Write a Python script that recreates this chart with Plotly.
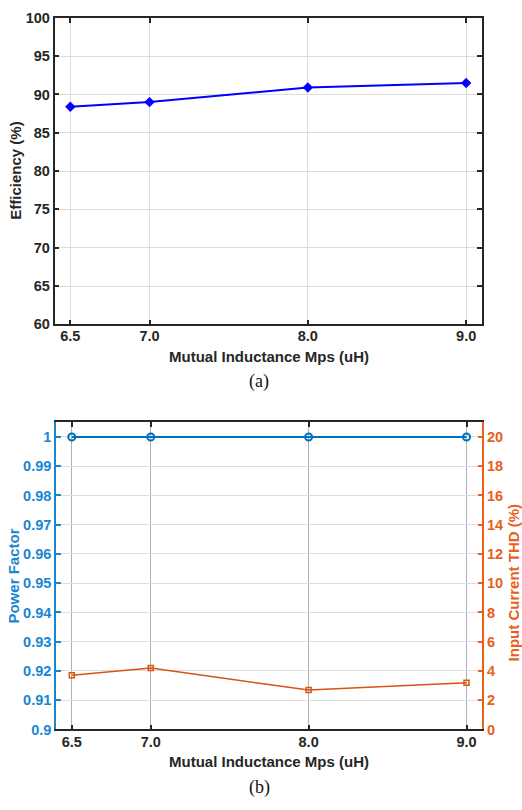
import plotly.graph_objects as go

# ---- data ----
mps = [6.5, 7.0, 8.0, 9.0]
efficiency = [88.4, 89.0, 90.9, 91.5]
power_factor = [1.0, 1.0, 1.0, 1.0]
thd = [3.7, 4.2, 2.7, 3.2]
x_ticks = [6.5, 7.0, 8.0, 9.0]
x_ticktext = ["6.5", "7.0", "8.0", "9.0"]
eff_ticks = [60, 65, 70, 75, 80, 85, 90, 95, 100]
pf_ticks = [0.9, 0.91, 0.92, 0.93, 0.94, 0.95, 0.96, 0.97, 0.98, 0.99, 1]
pf_ticktext = ["0.9", "0.91", "0.92", "0.93", "0.94", "0.95", "0.96", "0.97", "0.98", "0.99", "1"]
thd_ticks = [0, 2, 4, 6, 8, 10, 12, 14, 16, 18, 20]

W, H = 522, 810
FONT = "Liberation Sans, Arial, sans-serif"
DARK = "#262626"
BLUE_LINE = "#0072BD"
BLUE_TXT = "#1a86d0"
ORANGE_LINE = "#D95319"
ORANGE_TXT = "#E8601C"

def px_x(p):
    return p / W

def px_y(p):
    return (H - p) / H

fig = go.Figure()

fig.add_trace(go.Scatter(
    x=mps, y=efficiency, mode="lines+markers",
    line=dict(color="#0000FF", width=2),
    marker=dict(symbol="diamond", size=8, color="#0000FF"),
    xaxis="x", yaxis="y", showlegend=False,
))
fig.add_trace(go.Scatter(
    x=mps, y=power_factor, mode="lines+markers",
    line=dict(color=BLUE_LINE, width=2),
    marker=dict(symbol="circle-open", size=7, color=BLUE_LINE, line=dict(width=2)),
    xaxis="x2", yaxis="y2", showlegend=False,
))
fig.add_trace(go.Scatter(
    x=mps, y=thd, mode="lines+markers",
    line=dict(color=ORANGE_LINE, width=1.5),
    marker=dict(symbol="square-open", size=5, color=ORANGE_LINE, line=dict(width=1.5)),
    xaxis="x2", yaxis="y3", showlegend=False,
))

TS = 14.5
tickfont_dark = dict(family=FONT, size=TS, color=DARK, weight="bold")

xcommon = dict(
    range=[6.4, 9.1], tickvals=x_ticks, ticktext=x_ticktext,
    ticks="inside", ticklen=5, tickwidth=1.5,
    showline=True, linewidth=1.5, linecolor=DARK, tickcolor=DARK,
    mirror="ticks", showgrid=True, zeroline=False,
    tickfont=tickfont_dark, ticklabelstandoff=-2,
)

fig.update_layout(
    width=W, height=H,
    margin=dict(l=0, r=0, t=0, b=0),
    paper_bgcolor="white", plot_bgcolor="white",
    xaxis=dict(domain=[px_x(54.5), px_x(482)], anchor="y",
               gridcolor="#dcdcdc", gridwidth=1, **xcommon),
    yaxis=dict(domain=[px_y(322.7), px_y(10)], anchor="x",
               range=[60, 100], tickvals=eff_ticks,
               ticks="inside", ticklen=5, tickwidth=1.5,
               showline=True, linewidth=1.5, linecolor=DARK, tickcolor=DARK,
               mirror="ticks", showgrid=True, gridcolor="#dcdcdc", zeroline=False,
               tickfont=tickfont_dark),
    xaxis2=dict(domain=[px_x(56), px_x(482.3)], anchor="y2",
                gridcolor="#b0b0b0", gridwidth=1, **xcommon),
    yaxis2=dict(domain=[px_y(736), px_y(422.7)], anchor="x2",
                range=[0.9, 1.005], tickvals=pf_ticks, ticktext=pf_ticktext,
                ticks="inside", ticklen=5, tickwidth=1.5,
                showline=True, linewidth=1.5, linecolor=BLUE_TXT, tickcolor=BLUE_TXT,
                mirror=False, showgrid=True, gridcolor="#dcdcdc", zeroline=False,
                tickfont=dict(family=FONT, size=TS, color=BLUE_TXT, weight="bold")),
    yaxis3=dict(overlaying="y2", side="right", anchor="x2",
                range=[0, 21], tickvals=thd_ticks,
                ticks="inside", ticklen=5, tickwidth=1.5,
                showline=True, linewidth=1.5, linecolor=ORANGE_TXT, tickcolor=ORANGE_TXT,
                showgrid=False, zeroline=False,
                tickfont=dict(family=FONT, size=TS, color=ORANGE_TXT, weight="bold")),
)

title_font = dict(family=FONT, size=15, color=DARK, weight="bold")
cap_font = dict(family="Liberation Serif, Times New Roman, serif", size=18, color="#111111")

annots = [
    dict(text="Mutual Inductance Mps (uH)", x=px_x(269), y=px_y(356), font=title_font),
    dict(text="(a)", x=px_x(259), y=px_y(381), font=cap_font),
    dict(text="Efficiency (%)", x=px_x(16), y=px_y(166), font=title_font, textangle=-90),
    dict(text="Mutual Inductance Mps (uH)", x=px_x(269), y=px_y(769), font=title_font),
    dict(text="(b)", x=px_x(259), y=px_y(795), font=cap_font),
    dict(text="Power Factor", x=px_x(14), y=px_y(580),
         font=dict(family=FONT, size=15, color=BLUE_TXT, weight="bold"), textangle=-90),
    dict(text="Input Current THD (%)", x=px_x(513), y=px_y(587),
         font=dict(family=FONT, size=15, color=ORANGE_TXT, weight="bold"), textangle=-90),
]
for a in annots:
    fig.add_annotation(xref="paper", yref="paper", showarrow=False,
                       xanchor="center", yanchor="middle", **a)

fig.write_html("out.html",
               config={"displayModeBar": False},
               post_script="document.body.style.margin='0';document.body.style.padding='0';")
